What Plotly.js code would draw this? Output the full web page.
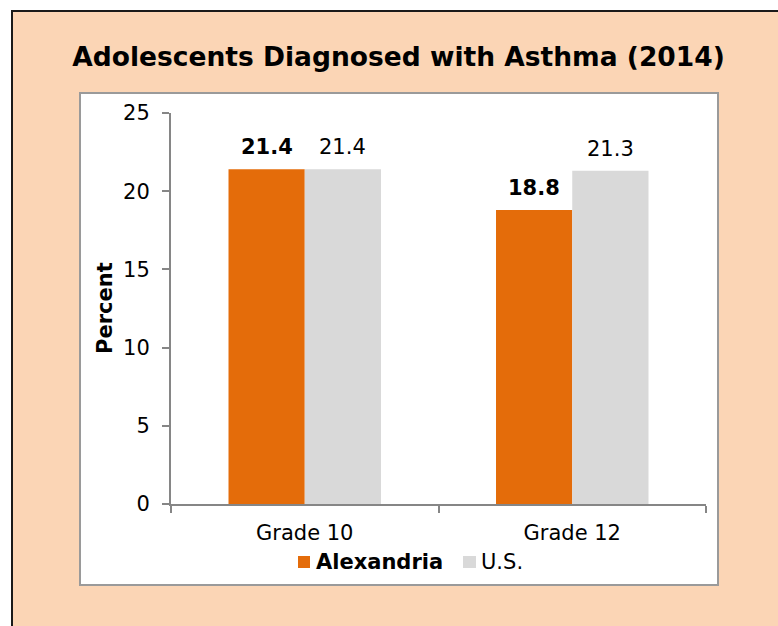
<!DOCTYPE html>
<html>
<head>
<meta charset="utf-8">
<script src="https://cdn.plot.ly/plotly-3.0.1.min.js"></script>
<style>
  html, body { margin: 0; padding: 0; background: #ffffff; }
  #chart { width: 778px; height: 626px; }
</style>
</head>
<body>
<div id="chart"></div>
<script>
// Chart data
const categories = ['Grade 10', 'Grade 12'];
const alexandria = [21.4, 18.8];
const us = [21.4, 21.3];
const seriesNames = ['Alexandria', 'U.S.'];
const yTickVals = [0, 5, 10, 15, 20, 25];

// Styling
const ORANGE = '#E46C0A';
const GRAY = '#D9D9D9';
const PEACH = '#FBD5B5';
const AXIS = '#868686';
const FONT = 'DejaVu Sans, Verdana, sans-serif';
const FS = 21;

// Plot area in page pixels
const W = 778, H = 626;
const L = 171, R = 706, T = 113, B = 504;
const px = p => (p - L) / (R - L);
const py = p => (B - p) / (B - T);

const BARGAP = 0.43;
const halfBarPx = (R - L) / categories.length * (1 - BARGAP) / 4;

const traces = [
  { type: 'bar', x: categories, y: alexandria, name: seriesNames[0],
    marker: { color: ORANGE }, hoverinfo: 'skip' },
  { type: 'bar', x: categories, y: us, name: seriesNames[1],
    marker: { color: GRAY }, hoverinfo: 'skip' }
];

// Value labels above each bar
const annotations = [];
categories.forEach((c, i) => {
  annotations.push({ xref: 'x', yref: 'y', x: c, y: alexandria[i], xshift: -halfBarPx, yshift: 22,
    text: '<b>' + alexandria[i].toFixed(1) + '</b>', showarrow: false, yanchor: 'middle',
    font: { family: FONT, size: FS, color: '#000' } });
  annotations.push({ xref: 'x', yref: 'y', x: c, y: us[i], xshift: halfBarPx, yshift: 22,
    text: us[i].toFixed(1), showarrow: false, yanchor: 'middle',
    font: { family: FONT, size: FS, color: '#000' } });
});

// Y-axis title
annotations.push({ xref: 'paper', yref: 'paper', x: px(105), y: py(308), textangle: -90,
  text: '<b>Percent</b>', showarrow: false, xanchor: 'center', yanchor: 'middle',
  font: { family: FONT, size: FS, color: '#000' } });

// Legend text
annotations.push({ xref: 'paper', yref: 'paper', x: px(314), y: py(562), xanchor: 'left', yanchor: 'middle',
  text: '<b>' + seriesNames[0] + '</b>', showarrow: false, font: { family: FONT, size: FS, color: '#000' } });
annotations.push({ xref: 'paper', yref: 'paper', x: px(479), y: py(562), xanchor: 'left', yanchor: 'middle',
  text: seriesNames[1], showarrow: false, font: { family: FONT, size: FS, color: '#000' } });

const shapes = [
  // peach panel with dark frame
  { type: 'rect', xref: 'paper', yref: 'paper', layer: 'below',
    x0: px(12), x1: px(800), y0: py(11), y1: py(650),
    fillcolor: PEACH, line: { color: '#1a1a1a', width: 2 } },
  // white chart box
  { type: 'rect', xref: 'paper', yref: 'paper', layer: 'below',
    x0: px(80), x1: px(718), y0: py(93), y1: py(585),
    fillcolor: '#ffffff', line: { color: '#9a9a9a', width: 2 } },
  // legend swatches
  { type: 'rect', xref: 'paper', yref: 'paper', x0: px(298), x1: px(310), y0: py(556), y1: py(568),
    fillcolor: ORANGE, line: { width: 0 } },
  { type: 'rect', xref: 'paper', yref: 'paper', x0: px(463), x1: px(476), y0: py(556), y1: py(568),
    fillcolor: GRAY, line: { width: 0 } }
];

const layout = {
  width: W, height: H,
  margin: { l: L, r: W - R, t: T, b: H - B, pad: 0 },
  paper_bgcolor: '#ffffff',
  plot_bgcolor: 'rgba(0,0,0,0)',
  font: { family: FONT, size: FS, color: '#000' },
  title: { text: '<b>Adolescents Diagnosed with Asthma (2014)</b>',
    font: { family: FONT, size: 26.5, color: '#000' },
    xref: 'container', yref: 'container', x: 398.5 / W, y: 1 - 57 / H,
    xanchor: 'center', yanchor: 'middle' },
  barmode: 'group', bargap: BARGAP, bargroupgap: 0,
  showlegend: false,
  xaxis: { type: 'category', showgrid: false, zeroline: false,
    showline: true, linecolor: AXIS, linewidth: 2,
    ticks: 'outside', tickson: 'boundaries', ticklen: 7, tickcolor: AXIS, tickwidth: 2,
    tickfont: { family: FONT, size: FS, color: '#000' }, ticklabelstandoff: 9 },
  yaxis: { range: [0, 25], tickvals: yTickVals, showgrid: false, zeroline: false,
    showline: true, linecolor: AXIS, linewidth: 2,
    ticks: 'outside', ticklen: 7, tickcolor: AXIS, tickwidth: 2,
    tickfont: { family: FONT, size: FS, color: '#000' }, ticklabelstandoff: 8 },
  annotations: annotations,
  shapes: shapes
};

Plotly.newPlot('chart', traces, layout, { staticPlot: true, displayModeBar: false });
</script>
</body>
</html>
